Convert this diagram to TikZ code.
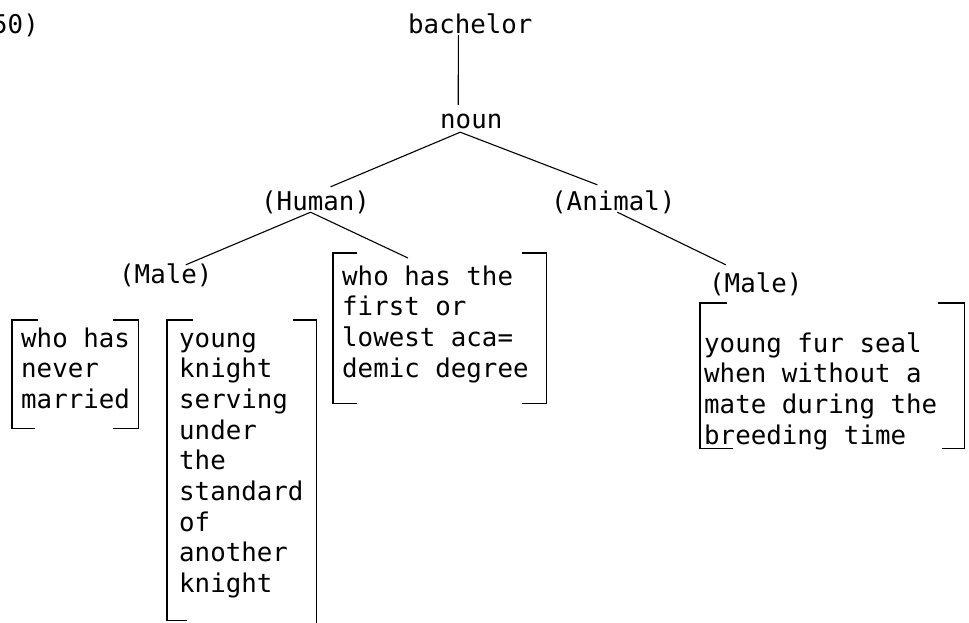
\documentclass[tikz,border=0pt]{standalone}
\usepackage{fontspec}
\newfontfamily\tw{DejaVu Sans Mono}
\begin{document}
\begin{tikzpicture}[x=1pt,y=-1pt,
  txt/.style={font=\tw\fontsize{25.8}{30.7}\selectfont, inner sep=0pt, anchor=base west, text height=20pt, text depth=6pt},
  para/.style={font=\tw\fontsize{25.8}{30.7}\selectfont, inner sep=0pt, anchor=base west, align=left},
  frame/.style={inner sep=0pt, anchor=north west},
  ln/.style={line width=1.1pt, black},
  brk/.style={line width=1.1pt, black}]
\useasboundingbox (0,0) rectangle (969,622);
% labels
\node[txt] (num) at (-8,33) {50)};
\node[txt] (bach) at (408,33) {bachelor};
\node[txt] (noun) at (440,128) {noun};
\node[txt] (hum) at (261,210) {(Human)};
\node[txt] (ani) at (551,210) {(Animal)};
\node[txt] (malel) at (119,283) {(Male)};
\node[txt] (maler) at (709,292) {(Male)};
% bracket frames
\node[frame, minimum width=126pt, minimum height=108pt] (neverbox) at (12,320) {};
\node[frame, minimum width=149pt, minimum height=300pt] (knightbox) at (167,320) {};
\node[frame, minimum width=213pt, minimum height=150pt] (whobox) at (333,253) {};
\node[frame, minimum width=264pt, minimum height=145pt] (sealbox) at (700,303) {};
% texts (anchored at the baseline of their last line)
\node[para] (neverT) at (21,408.4) {who has\\never\\married};
\node[para] (knightT) at (179,592.6) {young\\knight\\serving\\under\\the\\standard\\of\\another\\knight};
\node[para] (whoT) at (342,377.1) {who has the\\first or\\lowest aca=\\demic degree};
\node[para] (sealT) at (704,444.1) {young fur seal\\when without a\\mate during the\\breeding time};
% brackets
\draw[brk] ([xshift=26pt]neverbox.north west) -- (neverbox.north west) -- (neverbox.south west) -- ([xshift=23pt]neverbox.south west);
\draw[brk] ([xshift=-25pt]neverbox.north east) -- (neverbox.north east) -- (neverbox.south east) -- ([xshift=-25pt]neverbox.south east);
\draw[brk] ([xshift=26pt]knightbox.north west) -- (knightbox.north west) -- (knightbox.south west) -- ([xshift=20pt]knightbox.south west);
\draw[brk] ([xshift=-23pt]knightbox.north east) -- (knightbox.north east) -- ([yshift=-4pt]knightbox.south east);
\draw[brk] ([xshift=24pt]whobox.north west) -- (whobox.north west) -- (whobox.south west) -- ([xshift=24pt]whobox.south west);
\draw[brk] ([xshift=-24pt]whobox.north east) -- (whobox.north east) -- (whobox.south east) -- ([xshift=-24pt]whobox.south east);
\draw[brk] ([xshift=27pt]sealbox.north west) -- (sealbox.north west) -- (sealbox.south west) -- ([xshift=33pt]sealbox.south west);
\draw[brk] ([xshift=-26pt]sealbox.north east) -- (sealbox.north east) -- (sealbox.south east) -- ([xshift=-22pt]sealbox.south east);
% connectors
\draw[ln] ([xshift=-12pt,yshift=4pt]bach.south) -- ([xshift=-13pt,yshift=3pt]noun.north);
\draw[ln] ([xshift=-11pt,yshift=2pt]noun.south) -- ([xshift=15pt,yshift=3pt]hum.north);
\draw[ln] ([xshift=-11pt,yshift=2pt]noun.south) -- ([xshift=-16pt,yshift=5pt]ani.north);
\draw[ln] ([xshift=-5pt,yshift=4pt]hum.south) -- ([xshift=20pt,yshift=-2pt]malel.north);
\draw[ln] ([xshift=-5pt,yshift=4pt]hum.south) -- ([xshift=75pt,yshift=-5pt]whobox.north west);
\draw[ln] ([xshift=4pt,yshift=4pt]ani.south) -- ([xshift=-30pt,yshift=7pt]maler.north);
\end{tikzpicture}
\end{document}
